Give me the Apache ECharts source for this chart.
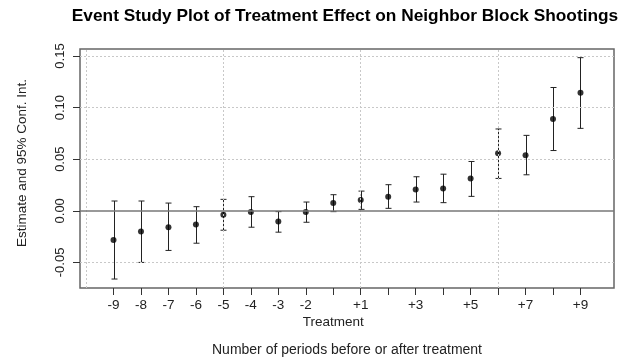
<!DOCTYPE html>
<html>
<head>
<meta charset="utf-8">
<script src="https://cdn.jsdelivr.net/npm/echarts@6/dist/echarts.min.js"></script>
<style>
  html, body { margin: 0; padding: 0; background: #fff; }
  #chart { width: 622px; height: 362px; }
</style>
</head>
<body>
<div id="chart"></div>
<script>
// Event-time periods (treatment period sits between -2 and +1)
const periods = ['-9', '-8', '-7', '-6', '-5', '-4', '-3', '-2', '0', '+1', '+2', '+3', '+4', '+5', '+6', '+7', '+8', '+9'];
// Text shown under each tick
const tickLabels = ['-9', '-8', '-7', '-6', '-5', '-4', '-3', '-2', '\nTreatment', '+1', '', '+3', '', '+5', '', '+7', '', '+9'];
// Point estimates and 95% confidence bounds
const estimate = [-0.0282, -0.0201, -0.0159, -0.0133, -0.0037, -0.0011, -0.0104, -0.0011, 0.0075, 0.0104, 0.0137, 0.0207, 0.0217, 0.0314, 0.0558, 0.0539, 0.0890, 0.1144];
const lower    = [-0.0661, -0.0500, -0.0384, -0.0314, -0.0188, -0.0159, -0.0207, -0.0111, -0.0008, 0.0014, 0.0024, 0.0085, 0.0079, 0.0140, 0.0314, 0.0349, 0.0584, 0.0799];
const upper    = [0.0095, 0.0095, 0.0075, 0.0040, 0.0111, 0.0137, -0.0008, 0.0085, 0.0156, 0.0191, 0.0253, 0.0330, 0.0355, 0.0478, 0.0793, 0.0731, 0.1195, 0.1484];
// Y axis tick values
const yTicks = [-0.05, 0.00, 0.05, 0.10, 0.15];
// Reference grid positions
const xGrid = [0, 5, 10, 15];
const yGrid = [-0.05, 0.05, 0.10, 0.15];

const pos = periods.map((_, i) => i + 1);
const FONT = 'Liberation Sans, Arial, sans-serif';

const chart = echarts.init(document.getElementById('chart'), null, { renderer: 'canvas' });

const dotted = { color: '#c8c8c8', width: 1, type: [2, 2] };

chart.setOption({
  animation: false,
  backgroundColor: '#fff',
  textStyle: { fontFamily: FONT },
  graphic: [
    {
      type: 'text',
      x: 345, y: 16,
      style: {
        text: 'Event Study Plot of Treatment Effect on Neighbor Block Shootings',
        font: 'bold 17.3px ' + FONT,
        fill: '#000',
        textAlign: 'center',
        textVerticalAlign: 'middle'
      }
    },
    {
      type: 'text',
      x: 22, y: 163,
      rotation: Math.PI / 2,
      style: {
        text: 'Estimate and 95% Conf. Int.',
        font: '13.5px ' + FONT,
        fill: '#222',
        textAlign: 'center',
        textVerticalAlign: 'middle'
      }
    }
  ],
  grid: {
    left: 80, right: 8, top: 49, bottom: 73,
    show: true, borderColor: '#666', borderWidth: 1.5
  },
  xAxis: {
    type: 'value',
    min: -0.22, max: 19.22,
    axisLine: { show: false, onZero: false },
    splitLine: { show: false },
    axisTick: { show: true, length: 7, customValues: pos, lineStyle: { color: '#333' } },
    axisLabel: {
      customValues: pos,
      margin: 9,
      fontSize: 13.5,
      lineHeight: 17,
      color: '#222',
      formatter: v => tickLabels[Math.round(v) - 1]
    },
    name: 'Number of periods before or after treatment',
    nameLocation: 'middle',
    nameGap: 55,
    nameTextStyle: { fontSize: 14, color: '#222' }
  },
  yAxis: {
    type: 'value',
    min: -0.0748, max: 0.1568,
    axisLine: { show: false, onZero: false },
    splitLine: { show: false },
    axisTick: { show: true, length: 7, customValues: yTicks, lineStyle: { color: '#333' } },
    axisLabel: {
      customValues: yTicks,
      rotate: 90,
      margin: 13,
      fontSize: 13,
      color: '#222',
      formatter: v => v.toFixed(2)
    }
  },
  series: [
    {
      // dotted reference grid and the zero line
      type: 'line',
      data: [],
      silent: true,
      markLine: {
        silent: true,
        symbol: 'none',
        label: { show: false },
        emphasis: { disabled: true },
        data: [
          ...xGrid.map(x => ({ xAxis: x, lineStyle: dotted })),
          ...yGrid.map(y => ({ yAxis: y, lineStyle: dotted })),
          { yAxis: 0, lineStyle: { color: '#777', width: 1.5, type: 'solid' } }
        ]
      }
    },
    {
      // confidence interval whiskers
      type: 'custom',
      silent: true,
      data: pos.map((x, i) => [x, lower[i], upper[i]]),
      renderItem: (params, api) => {
        const lo = api.coord([api.value(0), api.value(1)]);
        const hi = api.coord([api.value(0), api.value(2)]);
        const cx = Math.round(lo[0]) + 0.5;
        const w = 3;
        const style = { stroke: '#222', lineWidth: 1 };
        return {
          type: 'group',
          children: [
            { type: 'line', shape: { x1: cx, y1: hi[1], x2: cx, y2: lo[1] }, style },
            { type: 'line', shape: { x1: cx - w, y1: hi[1], x2: cx + w, y2: hi[1] }, style },
            { type: 'line', shape: { x1: cx - w, y1: lo[1], x2: cx + w, y2: lo[1] }, style }
          ]
        };
      },
      z: 3
    },
    {
      type: 'scatter',
      silent: true,
      symbol: 'circle',
      symbolSize: 6,
      itemStyle: { color: '#000' },
      data: pos.map((x, i) => [x, estimate[i]]),
      z: 4
    }
  ]
});
</script>
</body>
</html>
